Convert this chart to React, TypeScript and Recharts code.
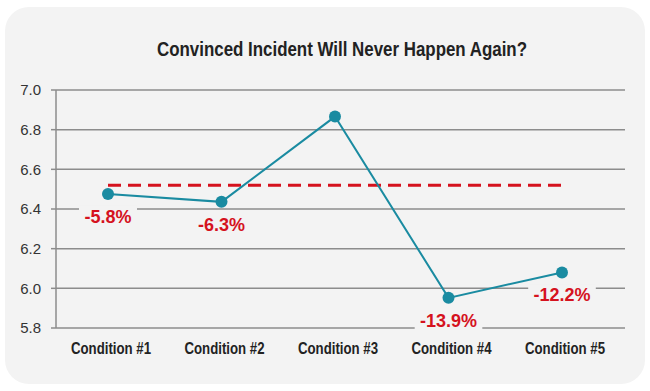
import { LineChart, Line, XAxis, YAxis, CartesianGrid, LabelList } from 'recharts';

const categories = ['Condition #1', 'Condition #2', 'Condition #3', 'Condition #4', 'Condition #5'];
const scores = [6.476, 6.436, 6.866, 5.952, 6.08];
const baseline = [6.52, 6.52, 6.52, 6.52, 6.52];
const changeLabels = ['-5.8%', '-6.3%', '', '-13.9%', '-12.2%'];
const yTicks = [5.8, 6.0, 6.2, 6.4, 6.6, 6.8, 7.0];

const TEAL = '#1a8ba1';
const RED = '#d5121e';
const GRID = '#8c8c8c';
const PANEL = '#f3f3f3';
const SANS = '"Liberation Sans", Arial, sans-serif';

const data = categories.map((name, i) => ({
  name,
  score: scores[i],
  baseline: baseline[i],
  label: changeLabels[i],
}));

// red percentage under each point, on a panel-coloured box that hides the gridline
function ChangeLabel(props: any) {
  const { x, y, value } = props;
  if (!value) return null;
  const w = String(value).length * 9.6 + 10;
  const base = y + 29;
  return (
    <g>
      <rect x={x - w / 2} y={base - 17} width={w} height={21} fill={PANEL} />
      <text x={x} y={base} textAnchor="middle" fill={RED} fontSize={18} fontWeight="bold" fontFamily={SANS}>
        {value}
      </text>
    </g>
  );
}

// no narrow font installed, so squeeze the bold sans to a condensed look
function CategoryTick(props: any) {
  const { x, y, payload } = props;
  return (
    <text
      x={x + 3} y={y + 12} textAnchor="middle" fill="#222" fontSize={16} fontWeight="bold"
      fontFamily={SANS} textLength={80} lengthAdjust="spacingAndGlyphs"
    >
      {payload.value}
    </text>
  );
}

export default function App() {
  return (
    <div style={{ position: 'absolute', left: 0, top: 0, width: 650, height: 391, background: '#fff' }}>
      <div style={{
        position: 'absolute', left: 5, top: 7, width: 640, height: 377,
        background: PANEL, borderRadius: 24,
      }} />
      <svg width={650} height={70} style={{ position: 'absolute', left: 0, top: 0 }}>
        <text
          x={342} y={56} textAnchor="middle" fill="#222" fontSize={20} fontWeight="bold"
          fontFamily={SANS} textLength={370} lengthAdjust="spacingAndGlyphs"
        >
          Convinced Incident Will Never Happen Again?
        </text>
      </svg>
      <div style={{ position: 'absolute', left: 0, top: 0 }}>
        <LineChart width={650} height={391} data={data} margin={{ top: 90, right: 25, left: 6, bottom: 33 }}>
          <CartesianGrid vertical={false} stroke={GRID} strokeWidth={1.5} />
          <XAxis
            dataKey="name" scale="point" padding={{ left: 52, right: 63 }}
            axisLine={false} tickLine={false} tickMargin={8} height={30} interval={0}
            tick={<CategoryTick />}
          />
          <YAxis
            domain={[5.8, 7.0]} ticks={yTicks} width={50} tickSize={5} tickMargin={10}
            tickFormatter={(v: number) => v.toFixed(1)}
            axisLine={{ stroke: GRID, strokeWidth: 1.5 }}
            tickLine={{ stroke: GRID, strokeWidth: 1.5 }}
            tick={{ fontSize: 15, fill: '#333', fontFamily: SANS }}
          />
          <Line
            dataKey="baseline" stroke={RED} strokeWidth={3} strokeDasharray="13 7"
            dot={false} activeDot={false} isAnimationActive={false}
          />
          <Line
            dataKey="score" stroke={TEAL} strokeWidth={2}
            dot={{ r: 6, fill: TEAL, stroke: TEAL, strokeWidth: 0 }}
            activeDot={false} isAnimationActive={false}
          >
            <LabelList dataKey="label" content={ChangeLabel} />
          </Line>
        </LineChart>
      </div>
    </div>
  );
}
